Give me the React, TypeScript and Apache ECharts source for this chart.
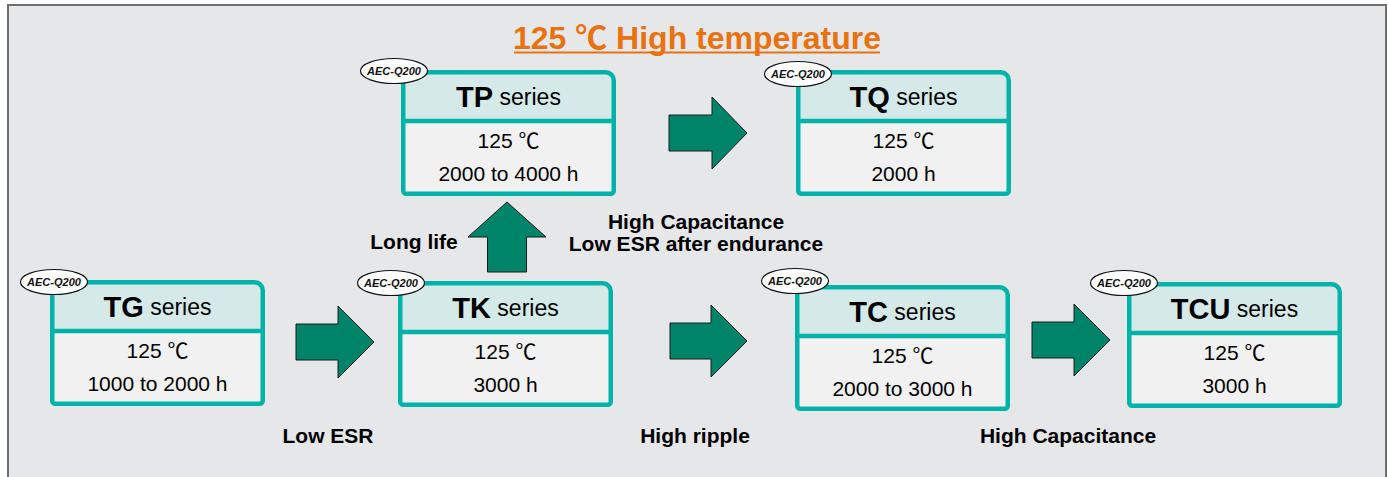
import React, { useEffect, useRef } from "react";
import * as echarts from "echarts";

// ---- content ----
const titleText = "125 ℃ High temperature";
const seriesCodes = ["TG", "TK", "TP", "TQ", "TC", "TCU"];
const seriesSuffix = "series";
const temperatures = ["125 ℃", "125 ℃", "125 ℃", "125 ℃", "125 ℃", "125 ℃"];
const lifetimes = ["1000 to 2000 h", "3000 h", "2000 to 4000 h", "2000 h", "2000 to 3000 h", "3000 h"];
const badgeText = "AEC-Q200";
const transitionLabels = ["Low ESR", "Long life", "High Capacitance\nLow ESR after endurance", "High ripple", "High Capacitance"];

// ---- layout ----
const boxPos: [number, number][] = [
  [50, 280],
  [398, 281],
  [401, 70],
  [796, 70],
  [795, 285],
  [1127, 282],
];
const badgePos: [number, number][] = [
  [54, 282],
  [391, 283],
  [394, 71],
  [798, 74],
  [795, 281],
  [1124, 283],
];
const labelPos: [number, number][] = [
  [328, 435],
  [414, 241],
  [696, 232],
  [695, 435],
  [1068, 435],
];
// right arrows: [shaftLeft, headBase, tip, centerY]
const rightArrows: [number, number, number, number][] = [
  [296, 338, 374, 342],
  [670, 711, 747, 341],
  [1032, 1074, 1110, 340],
  [669, 712, 747, 133],
];
// up arrow: [centerX, tipY, headBaseY, bottomY]
const upArrows: [number, number, number, number][] = [[507, 202, 237, 272]];

const FF = '"Liberation Sans", Arial, Helvetica, "Noto Sans CJK JP", sans-serif';
const TEAL = "#00b3a9";
const HEAD = "#d4e9e8";
const BODY = "#f1f1f1";
const ARROW = "#008469";
const ORANGE = "#e8720f";

function txt(text: string, x: number, y: number, size: number, weight: string = "normal", fill = "#000", extra: any = {}) {
  return {
    type: "text",
    style: {
      text,
      x,
      y,
      fontSize: size,
      fontWeight: weight,
      fontFamily: FF,
      fill,
      align: "center",
      verticalAlign: "middle",
      textAlign: "center",
      textVerticalAlign: "middle",
      ...extra,
    },
  };
}

function buildBox(i: number): any[] {
  const [x0, y0] = boxPos[i];
  const w = 215;
  const h = 126;
  const hh = 51;
  const cx = x0 + w / 2;
  const els: any[] = [
    { type: "rect", shape: { x: x0 + 2, y: y0 + 2, width: w - 4, height: h - 4, r: [8, 8, 3, 3] }, style: { fill: BODY } },
    { type: "rect", shape: { x: x0 + 2, y: y0 + 2, width: w - 4, height: hh - 2, r: [8, 8, 0, 0] }, style: { fill: HEAD } },
    { type: "line", shape: { x1: x0 + 2, y1: y0 + hh, x2: x0 + w - 2, y2: y0 + hh }, style: { stroke: TEAL, lineWidth: 4.5 } },
    {
      type: "rect",
      shape: { x: x0 + 2.25, y: y0 + 2.25, width: w - 4.5, height: h - 4.5, r: [8, 8, 3, 3] },
      style: { fill: "none", stroke: TEAL, lineWidth: 4.5 },
    },
    {
      type: "text",
      style: {
        text: `{a|${seriesCodes[i]}}{b| ${seriesSuffix}}`,
        x: cx,
        y: y0 + 27,
        align: "center",
        verticalAlign: "middle",
        textAlign: "center",
        textVerticalAlign: "middle",
        rich: {
          a: { fontSize: 29, fontWeight: "bold", fontFamily: FF, fill: "#000" },
          b: { fontSize: 23, fontFamily: FF, fill: "#000" },
        },
      },
    },
    txt(temperatures[i], cx, y0 + 70, 21),
    txt(lifetimes[i], cx, y0 + 103, 21),
  ];
  const [bx, by] = badgePos[i];
  els.push({
    type: "ellipse",
    shape: { cx: bx, cy: by, rx: 33.5, ry: 12.5 },
    style: { fill: "#fff", stroke: "#111", lineWidth: 1.2 },
  });
  els.push(txt(badgeText, bx, by, 11, "bold", "#111", { fontStyle: "italic" }));
  return els;
}

function rightArrow(a: [number, number, number, number]) {
  const [x0, hb, tip, cy] = a;
  const sh = 18;
  const hh = 36;
  return {
    type: "polygon",
    shape: {
      points: [
        [x0, cy - sh],
        [hb, cy - sh],
        [hb, cy - hh],
        [tip, cy],
        [hb, cy + hh],
        [hb, cy + sh],
        [x0, cy + sh],
      ],
    },
    style: { fill: ARROW, stroke: "#1a1a1a", lineWidth: 1 },
  };
}

function upArrow(a: [number, number, number, number]) {
  const [cx, tipY, hb, bottom] = a;
  const sh = 19.5;
  const hh = 39;
  return {
    type: "polygon",
    shape: {
      points: [
        [cx - sh, bottom],
        [cx - sh, hb],
        [cx - hh, hb],
        [cx, tipY],
        [cx + hh, hb],
        [cx + sh, hb],
        [cx + sh, bottom],
      ],
    },
    style: { fill: ARROW, stroke: "#1a1a1a", lineWidth: 1 },
  };
}

export default function App() {
  const ref = useRef<HTMLDivElement>(null);
  useEffect(() => {
    if (!ref.current) return;
    const chart = echarts.init(ref.current, undefined, { renderer: "svg" });
    const elements: any[] = [];
    elements.push({
      type: "rect",
      shape: { x: 8, y: 5, width: 1378, height: 480 },
      style: { fill: "#e6e7e9", stroke: "#6e6e6e", lineWidth: 2 },
    });
    elements.push(txt(titleText, 697, 38, 32, "bold", ORANGE));
    elements.push({
      type: "line",
      shape: { x1: 514, y1: 52.5, x2: 880, y2: 52.5 },
      style: { stroke: ORANGE, lineWidth: 2 },
    });
    rightArrows.forEach((a) => elements.push(rightArrow(a)));
    upArrows.forEach((a) => elements.push(upArrow(a)));
    transitionLabels.forEach((l, i) =>
      elements.push(txt(l, labelPos[i][0], labelPos[i][1], 21, "bold", "#000", { lineHeight: 22 }))
    );
    seriesCodes.forEach((_, i) => buildBox(i).forEach((e) => elements.push(e)));
    chart.setOption({ animation: false, graphic: { elements } });
    return () => chart.dispose();
  }, []);
  return (
    <div
      ref={ref}
      style={{ position: "absolute", left: 0, top: 0, width: 1388, height: 477, background: "#fff" }}
    />
  );
}
